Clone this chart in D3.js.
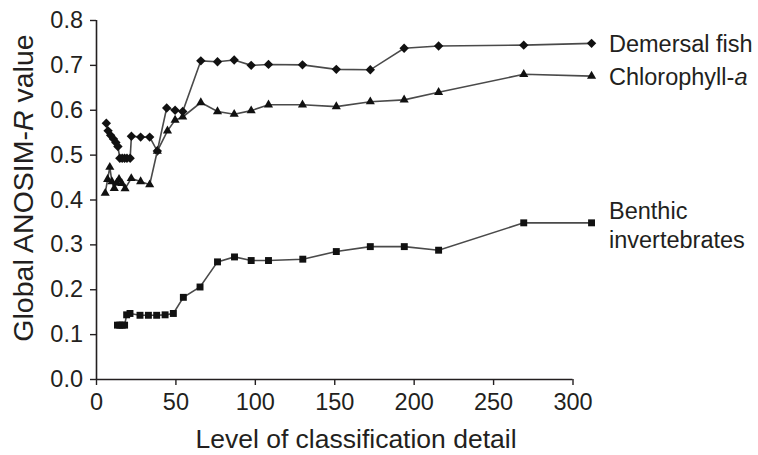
<!DOCTYPE html>
<html>
<head>
<meta charset="utf-8">
<script src="https://cdn.jsdelivr.net/npm/d3@7"></script>
<style>
  html, body { margin: 0; padding: 0; background: #fff; }
  svg text { font-family: "Liberation Sans", Arial, Helvetica, sans-serif; fill: #231f20; }
</style>
</head>
<body>
<svg id="chart" width="758" height="455"></svg>
<script>
// ---- data (x = level of classification detail, y = Global ANOSIM-R) ----
const xTicks = [0, 50, 100, 150, 200, 250, 300];
const yTicks = [0, 0.1, 0.2, 0.3, 0.4, 0.5, 0.6, 0.7, 0.8];

const fishX = [6.5, 7.6, 9.2, 11, 12.5, 13.8, 15, 16.5, 18, 19.5, 21.5, 22.3, 28.1, 33.8, 38.6, 44.5, 49.8, 54.6, 66, 76.5, 87, 97.7, 108.6, 130, 151.3, 172.7, 194, 215.7, 269.3, 312];
const fishY = [0.570, 0.553, 0.543, 0.535, 0.527, 0.518, 0.492, 0.492, 0.492, 0.492, 0.492, 0.541, 0.539, 0.539, 0.508, 0.604, 0.599, 0.596, 0.709, 0.707, 0.711, 0.699, 0.701, 0.700, 0.690, 0.689, 0.737, 0.742, 0.744, 0.748];

const chlX = [5.8, 7.3, 8.7, 10, 11.5, 13, 14.5, 16.2, 18.3, 22.2, 28.1, 33.8, 38.6, 45, 49.8, 54.6, 66, 76.5, 87, 97.7, 108.6, 130, 151.3, 172.7, 194, 215.7, 269.3, 312];
const chlY = [0.414, 0.445, 0.472, 0.440, 0.425, 0.437, 0.445, 0.436, 0.424, 0.447, 0.440, 0.433, 0.508, 0.553, 0.577, 0.584, 0.616, 0.596, 0.590, 0.598, 0.611, 0.611, 0.607, 0.618, 0.622, 0.639, 0.679, 0.675];

const benX = [13.5, 15, 16.5, 18, 19.3, 21.4, 27.7, 33, 38.2, 43.5, 48.7, 55, 65.5, 76.5, 87.2, 97.7, 108.6, 130.2, 151.3, 172.7, 194.1, 215.7, 269.3, 312];
const benY = [0.120, 0.120, 0.120, 0.120, 0.143, 0.146, 0.142, 0.142, 0.142, 0.143, 0.146, 0.182, 0.205, 0.261, 0.272, 0.264, 0.264, 0.267, 0.284, 0.295, 0.295, 0.287, 0.348, 0.348];

const seriesNames = ["Demersal fish", "Chlorophyll-a", "Benthic invertebrates"];

// ---- layout ----
const svg = d3.select("#chart");
const x = d3.scaleLinear().domain([0, 300]).range([96, 572.5]);
const y = d3.scaleLinear().domain([0, 0.8]).range([379, 20]);

const ink = "#231f20";

// axes
const xAxis = d3.axisBottom(x).tickValues(xTicks).tickSize(6).tickPadding(8).tickFormat(d3.format("d"));
const yAxis = d3.axisLeft(y).tickValues(yTicks).tickSize(6).tickPadding(7).tickFormat(d3.format(".1f"));

const gx = svg.append("g").attr("transform", `translate(0,${y(0)})`).call(xAxis);
const gy = svg.append("g").attr("transform", `translate(${x(0)},0)`).call(yAxis);
[gx, gy].forEach(g => {
  g.select(".domain").attr("stroke", ink).attr("stroke-width", 1.6);
  g.selectAll(".tick line").attr("stroke", ink).attr("stroke-width", 1.4);
  g.selectAll(".tick text").attr("font-size", 23.5).attr("fill", ink)
    .style("font-family", '"Liberation Sans", Arial, sans-serif');
});
gx.select(".domain").attr("d", `M${x(0)},0.5H${x(300)}`);
gy.select(".domain").attr("d", `M0.5,${y(0)}V${y(0.8)}`);

// axis titles
svg.append("text")
  .attr("x", 356).attr("y", 448)
  .attr("text-anchor", "middle").attr("font-size", 26.5)
  .text("Level of classification detail");

const yt = svg.append("text")
  .attr("transform", `translate(33,188) rotate(-90)`)
  .attr("text-anchor", "middle").attr("font-size", 28.5);
yt.append("tspan").text("Global ANOSIM-");
yt.append("tspan").attr("font-style", "italic").text("R");
yt.append("tspan").text(" value");

// series
const line = d3.line().x(d => x(d[0])).y(d => y(d[1]));
const series = [
  { xs: fishX, ys: fishY, sym: d3.symbolSquare, size: 44, rot: 45 },
  { xs: chlX, ys: chlY, sym: d3.symbolTriangle, size: 36, rot: 0 },
  { xs: benX, ys: benY, sym: d3.symbolSquare, size: 48, rot: 0 }
];

series.forEach(s => {
  const pts = s.xs.map((v, i) => [v, s.ys[i]]);
  svg.append("path").datum(pts)
    .attr("fill", "none").attr("stroke", "#4a4a4a").attr("stroke-width", 1.6)
    .attr("d", line);
  svg.append("g").selectAll("path").data(pts).join("path")
    .attr("transform", d => `translate(${x(d[0])},${y(d[1])}) rotate(${s.rot})`)
    .attr("d", d3.symbol().type(s.sym).size(s.size))
    .attr("fill", "#111");
});

// end labels
const labX = 609;
const lastY = arr => arr[arr.length - 1];
svg.append("text").attr("x", labX).attr("y", y(lastY(fishY)) + 9)
  .attr("font-size", 23.5).text(seriesNames[0]);
const cl = svg.append("text").attr("x", labX).attr("y", y(lastY(chlY)) + 9)
  .attr("font-size", 23.5);
cl.append("tspan").text("Chlorophyll-");
cl.append("tspan").attr("font-style", "italic").text("a");
const bl = svg.append("text").attr("x", labX).attr("y", y(lastY(benY)) - 4)
  .attr("font-size", 23.5);
bl.append("tspan").attr("x", labX).text("Benthic");
bl.append("tspan").attr("x", labX).attr("dy", 29).text("invertebrates");
</script>
</body>
</html>
